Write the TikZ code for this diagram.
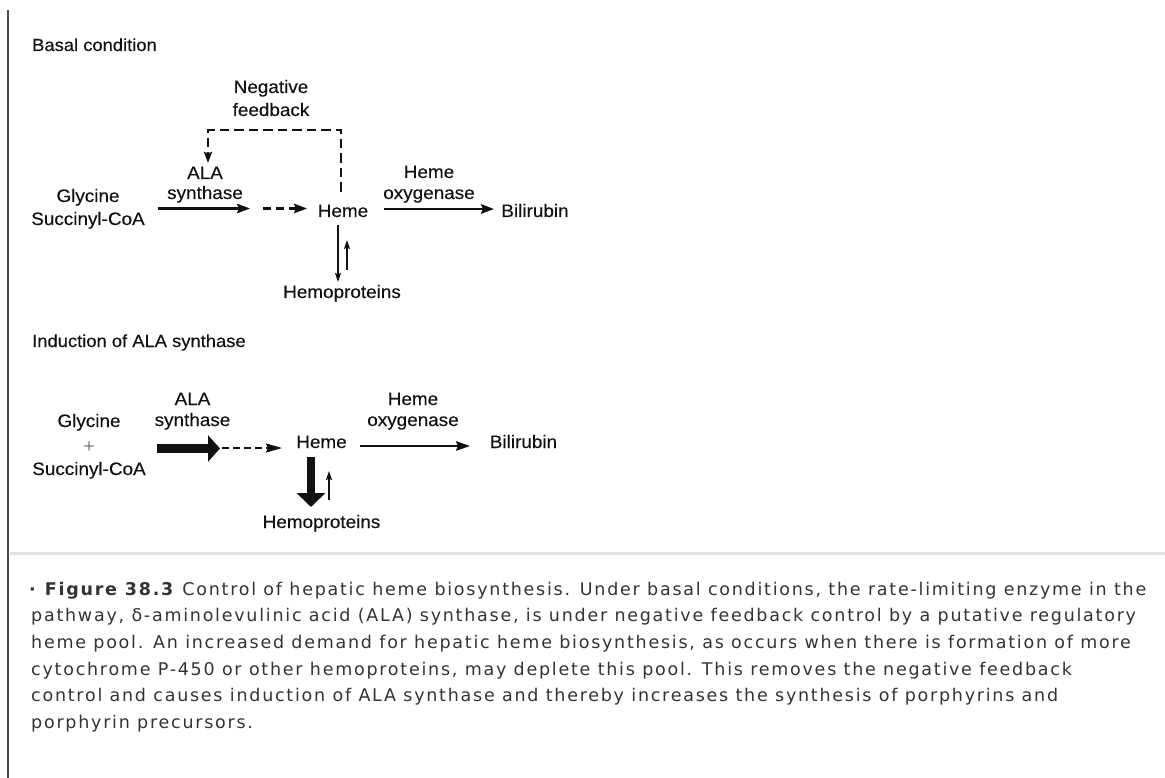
\documentclass[tikz,border=0pt]{standalone}
\usepackage{fontspec}
\setmainfont{Liberation Sans}
\newfontfamily\lblfont{Liberation Sans}[FakeStretch=1.05,FakeBold=0.25]
\newfontfamily\capfont{DejaVu Sans}[LetterSpace=10]
\usetikzlibrary{arrows.meta}
\definecolor{captext}{HTML}{333333}
\definecolor{inkdark}{HTML}{111111}
\definecolor{frameline}{HTML}{4A4A4A}
\definecolor{ruleline}{HTML}{E2E2E2}
\begin{document}
\begin{tikzpicture}[x=1pt,y=-1pt,
  lbl/.style={font=\lblfont\fontsize{18}{20}\selectfont, anchor=base, inner sep=0pt, text=inkdark},
  heading/.style={font=\lblfont\fontsize{17.5}{20}\selectfont, anchor=base west, inner sep=0pt, text=inkdark},
  capline/.style={font=\capfont\fontsize{17.5}{20}\selectfont, anchor=base west, inner sep=0pt, text=captext},
  flow/.style={draw=inkdark, line width=2.3pt, -{Stealth[length=13pt,width=9.5pt,inset=2pt]}},
  dflow/.style={flow, dash pattern=on 8pt off 5pt},
  thin/.style={draw=inkdark, line width=1.5pt, -{Stealth[length=9pt,width=6pt,inset=1.5pt]}},
  feedback/.style={draw=inkdark, line width=2.4pt, dash pattern=on 9.5pt off 5pt, -{Stealth[length=11pt,width=8pt,inset=1.5pt]}},
  bigarrow/.style={draw=inkdark, -{Triangle[length=12pt,width=26pt]}}
]
\useasboundingbox (0,0) rectangle (1165,778);

% page frame: left rule and separator above the caption
\draw[frameline, line width=2pt] (8,10) -- (8,778);
\draw[ruleline, line width=3pt] (10,553) -- (1165,553);

% ---------- basal condition ----------
\node[heading] (bTitle) at (32,51) {Basal condition};
\node[lbl] (bNeg1) at (271,93) {Negative};
\node[lbl] (bNeg2) at (271,116) {feedback};
\node[lbl] (bAla1) at (205,179) {ALA};
\node[lbl] (bAla2) at (205,199) {synthase};
\node[lbl] (bGly) at (88,202) {Glycine};
\node[lbl] (bSuc) at (88,225) {Succinyl-CoA};
\node[lbl] (bHeme) at (343,217) {Heme};
\node[lbl] (bHox1) at (429,178) {Heme};
\node[lbl] (bHox2) at (429,199) {oxygenase};
\node[lbl] (bBil) at (535,217) {Bilirubin};
\node[lbl] (bHemo) at (342,298) {Hemoproteins};

\coordinate (bS1) at (158,208.5);
\coordinate (bS2) at (250,208.5);
\coordinate (bD1) at (263,208.5);
\coordinate (bD2) at (307,208.5);
\coordinate (bO1) at (384,209);
\coordinate (bO2) at (494,209);
\coordinate (bDn1) at (338,225);
\coordinate (bDn2) at (338,282);
\coordinate (bUp1) at (347,270);
\coordinate (bUp2) at (347,240);
\coordinate (bF1) at (341,192);
\coordinate (bF2) at (341,130);
\coordinate (bF3) at (208,130);
\coordinate (bF4) at (208,163);

\draw[flow] (bS1) -- (bS2);
\draw[dflow] (bD1) -- (bD2);
\draw[flow] (bO1) -- (bO2);
\draw[thin] (bDn1) -- (bDn2);
\draw[thin] (bUp1) -- (bUp2);
\draw[feedback] (bF1) -- (bF2) -- (bF3) -- (bF4);

% ---------- induction of ALA synthase ----------
\node[heading] (iTitle) at (32,347) {Induction of ALA synthase};
\node[lbl] (iAla1) at (192.5,405) {ALA};
\node[lbl] (iAla2) at (192.5,426) {synthase};
\node[lbl] (iGly) at (89,427) {Glycine};
\node[lbl, text=gray] (iPlus) at (89,452) {+};
\node[lbl] (iSuc) at (89,475) {Succinyl-CoA};
\node[lbl] (iHeme) at (321.5,448) {Heme};
\node[lbl] (iHox1) at (413,405) {Heme};
\node[lbl] (iHox2) at (413,426) {oxygenase};
\node[lbl] (iBil) at (523.5,448) {Bilirubin};
\node[lbl] (iHemo) at (321.5,528) {Hemoproteins};

\coordinate (iS1) at (157,448.5);
\coordinate (iS2) at (220,448.5);
\coordinate (iD1) at (222,448);
\coordinate (iD2) at (282,448);
\coordinate (iO1) at (360,446);
\coordinate (iO2) at (470,446);
\coordinate (iDn1) at (311,457);
\coordinate (iDn2) at (311,507);
\coordinate (iUp1) at (329,500);
\coordinate (iUp2) at (329,471);

\draw[bigarrow, line width=9pt] (iS1) -- (iS2);
\draw[flow, dash pattern=on 7pt off 4pt, -{Stealth[length=16pt,width=9pt,inset=2pt]}] (iD1) -- (iD2);
\draw[flow, -{Stealth[length=14pt,width=9.5pt,inset=2pt]}] (iO1) -- (iO2);
\draw[bigarrow, line width=8pt, -{Triangle[length=14pt,width=28pt]}] (iDn1) -- (iDn2);
\draw[thin, line width=1.8pt] (iUp1) -- (iUp2);

% ---------- caption ----------
\node[capline] (cap1) at (29,595) {\textbf{·} \textbf{Figure 38.3} Control of hepatic heme biosynthesis. Under basal conditions, the rate-limiting enzyme in the};
\node[capline] (cap2) at (31,621.7) {pathway, δ-aminolevulinic acid (ALA) synthase, is under negative feedback control by a putative regulatory};
\node[capline] (cap3) at (31,648.4) {heme pool. An increased demand for hepatic heme biosynthesis, as occurs when there is formation of more};
\node[capline] (cap4) at (31,675.1) {cytochrome P-450 or other hemoproteins, may deplete this pool. This removes the negative feedback};
\node[capline] (cap5) at (31,701.8) {control and causes induction of ALA synthase and thereby increases the synthesis of porphyrins and};
\node[capline] (cap6) at (31,728.5) {porphyrin precursors.};
\end{tikzpicture}
\end{document}
